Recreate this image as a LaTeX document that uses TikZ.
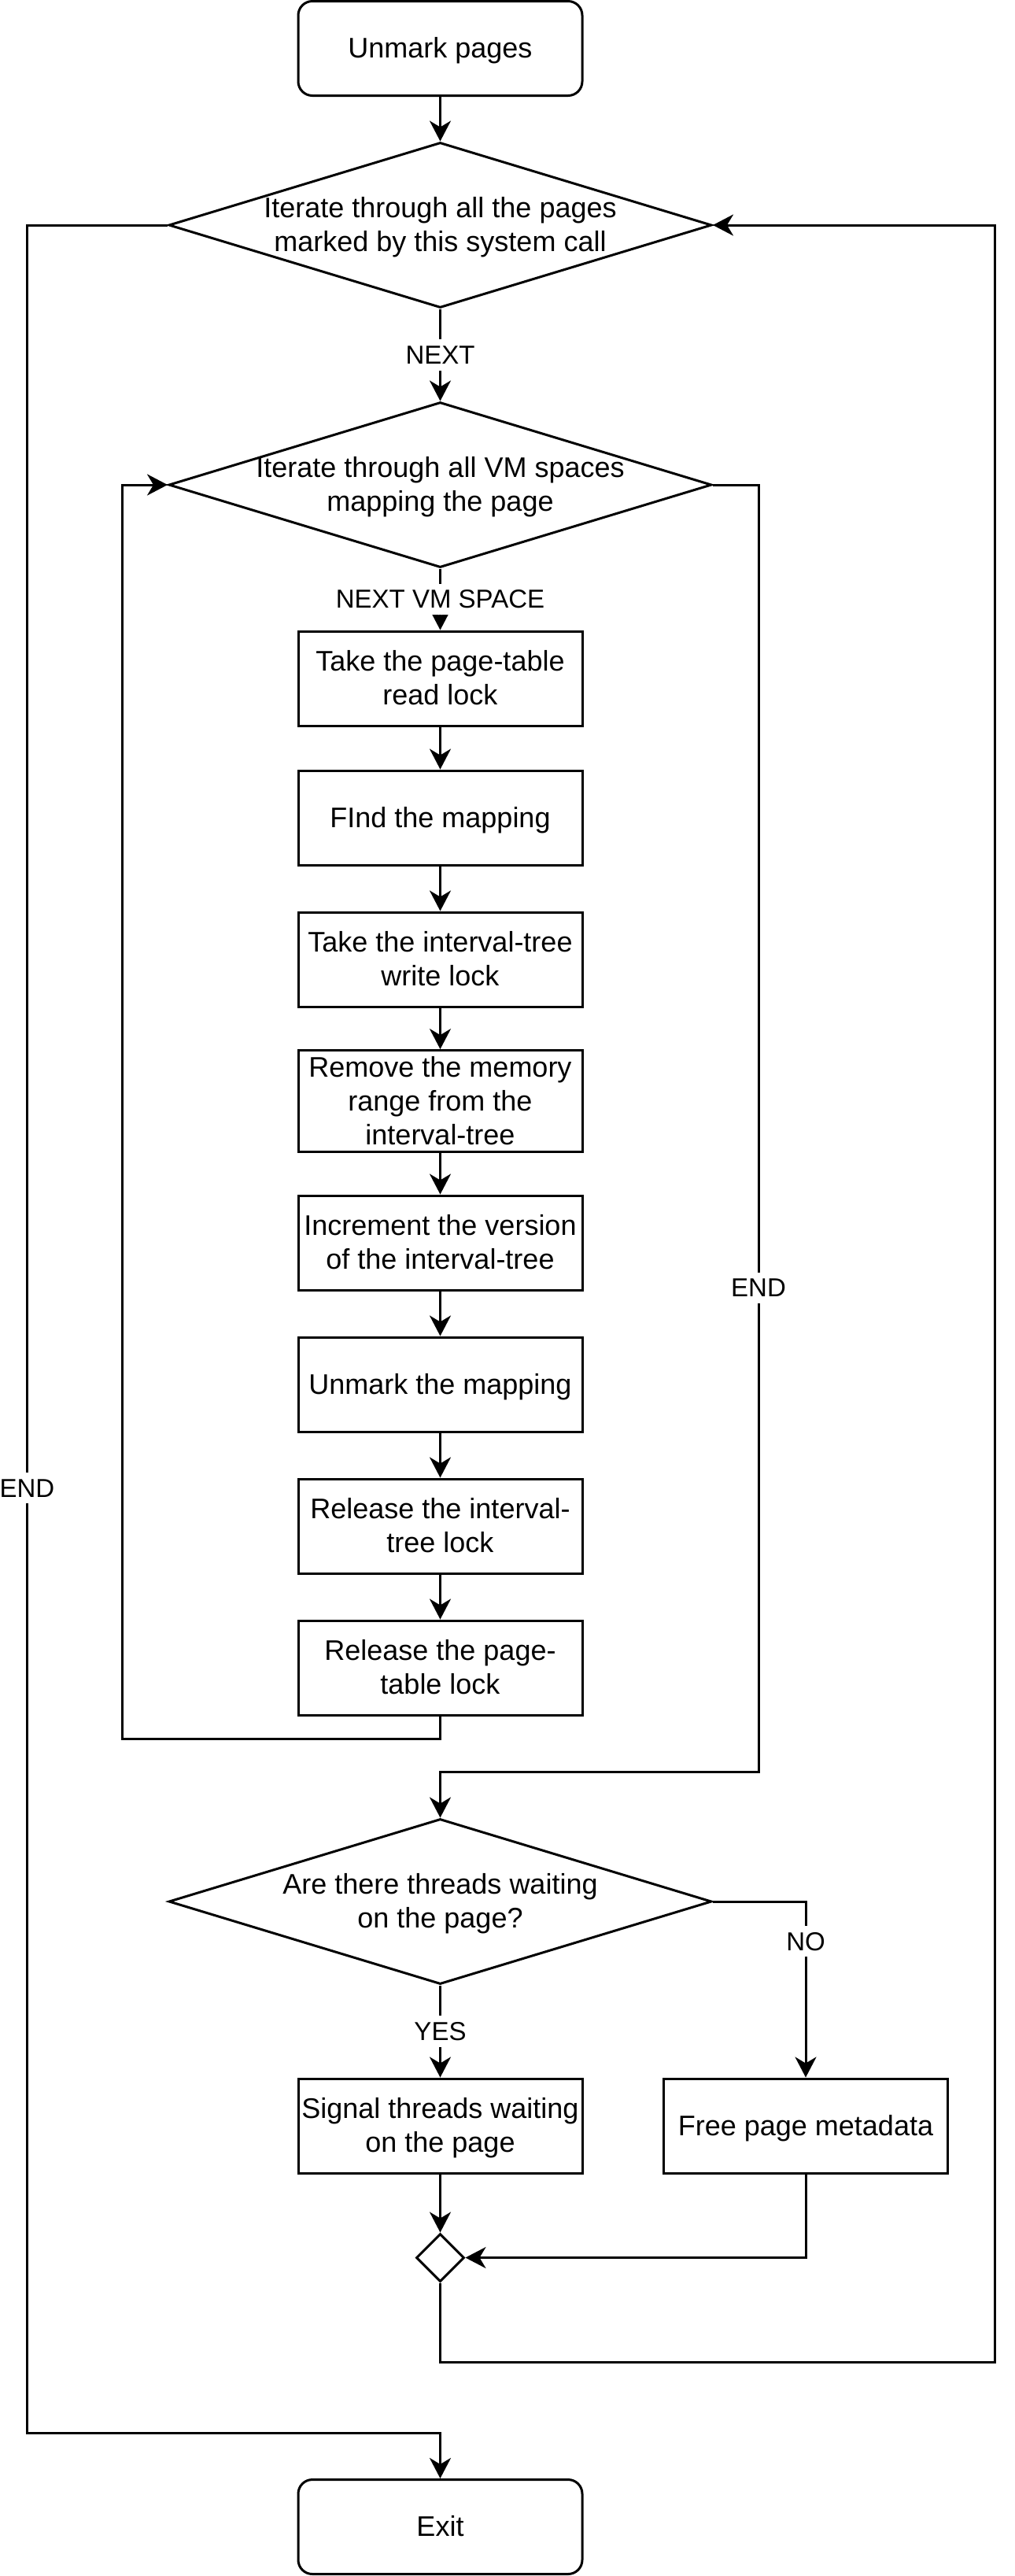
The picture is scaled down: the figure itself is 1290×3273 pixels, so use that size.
\documentclass[tikz,border=0pt]{standalone}
\usepackage{fontspec}
\setmainfont{Liberation Sans}
\usetikzlibrary{arrows.meta,shapes.geometric}
\newcommand{\lnstrut}{\rule[-0.25em]{0pt}{1.19em}}
\begin{document}
\begin{tikzpicture}[x=0.5pt,y=-0.5pt,
  every node/.style={font=\fontsize{18}{21.5}\selectfont},
  txt/.style={execute at begin node=\lnstrut, execute at end node=\lnstrut},
  proc/.style={draw, txt, line width=1.5pt, minimum width=180.5pt, minimum height=60pt, inner sep=0pt, align=center},
  term/.style={proc, rounded corners=9pt},
  decision/.style={draw, diamond, line width=1.5pt, minimum width=345pt, minimum height=105pt, inner sep=0pt},
  merge/.style={draw, diamond, line width=1.5pt, minimum width=30.5pt, minimum height=30.5pt, inner sep=0pt},
  dtext/.style={txt, align=center, inner sep=0pt},
  lbl/.style={txt, fill=white, font=\fontsize{16.5}{19.8}\selectfont, inner xsep=1pt, inner ysep=0pt},
  conn/.style={line width=1.5pt},
  arr/.style={conn, -{Stealth[length=13pt,width=13.5pt,inset=4pt]}}
]
\useasboundingbox (0,0) rectangle (1290,3273);

% nodes
\node[term] (start) at (559.5,61.5) {Unmark pages};
\node[decision] (d1) at (559.5,286) {};
\node[dtext] (d1t) at (d1) {\lnstrut Iterate through all the pages\\marked by this system call};
\node[decision] (d2) at (559.5,616) {};
\node[dtext] (d2t) at (d2) {\lnstrut Iterate through all VM spaces\\mapping the page};
\node[proc] (b1) at (559.5,862) {\lnstrut Take the page-table\\read lock};
\node[proc] (b2) at (559.5,1039) {FInd the mapping};
\node[proc] (b3) at (559.5,1219) {\lnstrut Take the interval-tree\\write lock};
\node[proc] (b4) at (559.5,1399) {\lnstrut Remove the memory\\range from the\\interval-tree};
\node[proc] (b5) at (559.5,1579) {\lnstrut Increment the version\\of the interval-tree};
\node[proc] (b6) at (559.5,1759) {Unmark the mapping};
\node[proc] (b7) at (559.5,1939) {\lnstrut Release the interval-\\tree lock};
\node[proc] (b8) at (559.5,2119) {\lnstrut Release the page-\\table lock};
\node[decision] (d3) at (559.5,2416) {};
\node[dtext] (d3t) at (d3) {\lnstrut Are there threads waiting\\on the page?};
\node[proc] (sig) at (559.5,2701) {\lnstrut Signal threads waiting\\on the page};
\node[proc] (fr) at (1024,2701) {Free page metadata};
\node[merge] (mg) at (559.5,2868.5) {};
\node[term] (exit) at (559.5,3210.5) {Exit};

% helper coordinates
\coordinate (l1) at (155,2209);
\coordinate (r0) at (964,616);
\coordinate (r1) at (964,2251);
\coordinate (c1) at (1264.5,3001);
\coordinate (e0) at (34.5,286);
\coordinate (e1) at (34.5,3091.5);
\coordinate (n0) at (1024,2416);

% connectors
\draw[arr] (start) -- (d1);
\draw[arr] (d1) -- node[lbl]{NEXT} (d2);
\draw[arr] (d2) -- node[lbl]{NEXT VM SPACE} (b1);
\draw[arr] (b1) -- (b2);
\draw[arr] (b2) -- (b3);
\draw[arr] (b3) -- (b4);
\draw[arr] (b4) -- (b5);
\draw[arr] (b5) -- (b6);
\draw[arr] (b6) -- (b7);
\draw[arr] (b7) -- (b8);
\draw[arr] (b8.south) |- (l1) |- (d2.west);
\draw[arr] (d2.east) -- (r0) -- node[lbl,pos=0.624]{END} (r1) -| (d3.north);
\draw[arr] (d3) -- node[lbl]{YES} (sig);
\draw[arr] (d3.east) -- (n0) -- node[lbl,pos=0.227]{NO} (fr.north);
\draw[arr] (sig) -- (mg);
\draw[arr] (fr.south) |- (mg.east);
\draw[arr] (mg.south) |- (c1) |- (d1.east);
\draw[arr] (d1.west) -- (e0) -- node[lbl,pos=0.572]{END} (e1) -| (exit.north);
\end{tikzpicture}
\end{document}
